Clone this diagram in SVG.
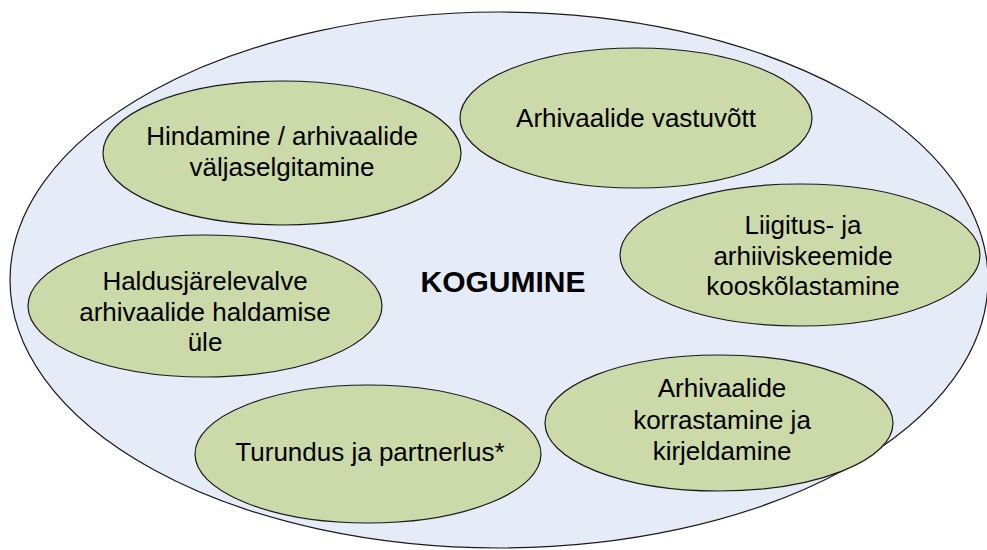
<svg xmlns="http://www.w3.org/2000/svg" width="987" height="550" viewBox="0 0 987 550">
<style>
.bg{fill:#E6ECF7;stroke:#1a1a1a;stroke-width:1.2}
.n{fill:#CCDAAA;stroke:#1a1a1a;stroke-width:1.2}
.t{font-family:"Liberation Sans",Arial,sans-serif;font-size:26px;fill:#000;text-anchor:middle}
.h{font-family:"Liberation Sans",Arial,sans-serif;font-size:30px;font-weight:bold;fill:#000;text-anchor:middle}
</style>
<rect width="987" height="550" fill="#fff"/>
<g id="kogumine">
<ellipse class="bg" cx="499" cy="280" rx="489" ry="268"/>
<text class="h" x="503" y="292">KOGUMINE</text>
</g>
<g id="connectors"></g>
<g id="hindamine">
<ellipse class="n" cx="282" cy="153" rx="179" ry="72"/>
<text class="t" x="282" y="145">Hindamine / arhivaalide</text>
<text class="t" x="282" y="176">väljaselgitamine</text>
</g>
<g id="vastuvott">
<ellipse class="n" cx="636" cy="118" rx="176" ry="70"/>
<text class="t" x="636" y="127">Arhivaalide vastuvõtt</text>
</g>
<g id="liigitus">
<ellipse class="n" cx="800" cy="255" rx="180" ry="71"/>
<text class="t" x="803" y="234">Liigitus- ja</text>
<text class="t" x="803" y="265">arhiiviskeemide</text>
<text class="t" x="803" y="295">kooskõlastamine</text>
</g>
<g id="haldus">
<ellipse class="n" cx="205" cy="306" rx="177" ry="71"/>
<text class="t" x="205" y="290">Haldusjärelevalve</text>
<text class="t" x="205" y="321">arhivaalide haldamise</text>
<text class="t" x="205" y="351">üle</text>
</g>
<g id="turundus">
<ellipse class="n" cx="368" cy="454" rx="173" ry="69"/>
<text class="t" x="370" y="461">Turundus ja partnerlus*</text>
</g>
<g id="korrastamine">
<ellipse class="n" cx="719" cy="423" rx="174" ry="68"/>
<text class="t" x="722" y="397">Arhivaalide</text>
<text class="t" x="722" y="429">korrastamine ja</text>
<text class="t" x="722" y="460">kirjeldamine</text>
</g>
</svg>
